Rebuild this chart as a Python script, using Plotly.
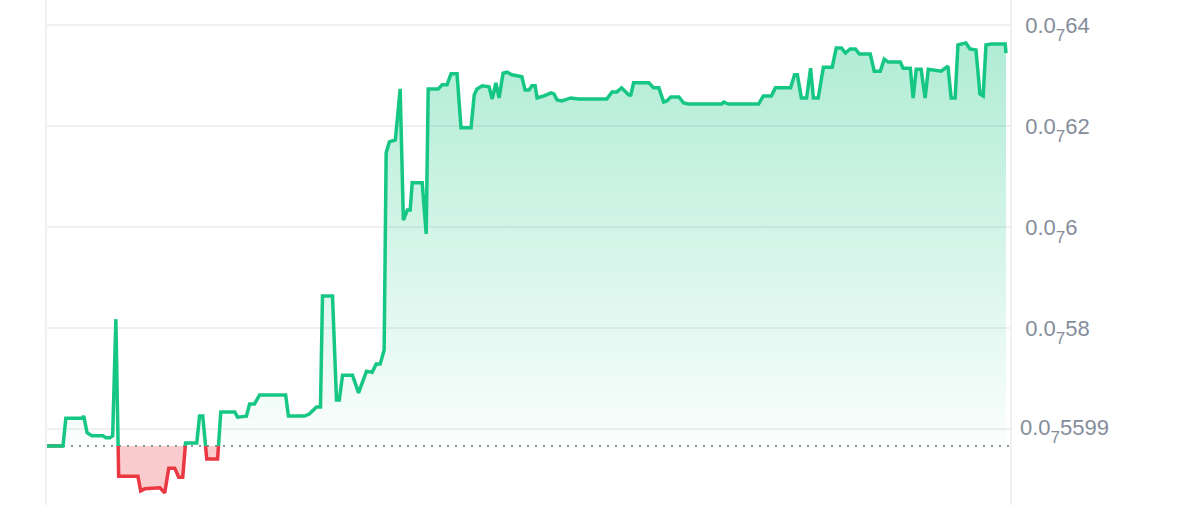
import numpy as np
import plotly.graph_objects as go

# price in units of 1e-8 (0.0₇64 == 6.4e-8), time in hours
hours = [
    0.00, 0.40, 0.47, 0.87, 0.92, 1.00, 1.12, 1.40, 1.47, 1.57, 1.64, 1.72, 1.79,
    2.27, 2.34, 2.44, 2.82, 2.94, 3.04, 3.19, 3.29, 3.39, 3.46, 3.74, 3.81, 3.89,
    3.99, 4.26, 4.34, 4.69, 4.76, 4.98, 5.06, 5.18, 5.31, 5.96, 6.03, 6.43, 6.55,
    6.73, 6.83, 6.88, 7.13, 7.23, 7.30, 7.38, 7.63, 7.78, 7.98, 8.12, 8.22, 8.32,
    8.42, 8.47, 8.55, 8.70, 8.82, 8.90, 9.00, 9.07, 9.12, 9.37, 9.47, 9.52, 9.77,
    9.87, 9.99, 10.09, 10.24, 10.34, 10.59, 10.67, 10.74, 10.87, 10.99, 11.04,
    11.12, 11.21, 11.29, 11.39, 11.49, 11.61, 11.86, 11.94, 12.04, 12.11, 12.19,
    12.24, 12.41, 12.59, 12.66, 12.74, 12.86, 13.08, 13.28, 13.98, 14.11, 14.23,
    14.35, 14.53, 14.58, 14.65, 15.03, 15.15, 15.28, 15.40, 15.48, 15.58, 15.78,
    15.90, 16.02, 16.85, 16.90, 17.02, 17.77, 17.89, 18.09, 18.19, 18.57, 18.67,
    18.74, 18.84, 18.97, 19.07, 19.14, 19.26, 19.39, 19.61, 19.71, 19.84, 19.94,
    20.06, 20.19, 20.29, 20.56, 20.66, 20.81, 20.91, 21.01, 21.31, 21.38, 21.56,
    21.63, 21.71, 21.83, 21.93, 22.01, 22.33, 22.50, 22.58, 22.68, 22.75, 22.95,
    23.05, 23.20, 23.30, 23.38, 23.45, 23.58, 23.93, 23.95,
]
price = [
    5.567, 5.567, 5.622, 5.622, 5.626, 5.593, 5.587, 5.587, 5.583, 5.583, 5.587, 5.818, 5.507,
    5.507, 5.478, 5.482, 5.484, 5.474, 5.523, 5.523, 5.505, 5.505, 5.573, 5.573, 5.626, 5.626,
    5.541, 5.541, 5.634, 5.634, 5.624, 5.626, 5.650, 5.650, 5.668, 5.668, 5.626, 5.626, 5.630,
    5.644, 5.644, 5.864, 5.864, 5.658, 5.658, 5.707, 5.707, 5.672, 5.715, 5.713, 5.729, 5.729,
    5.757, 6.147, 6.169, 6.173, 6.274, 6.014, 6.034, 6.034, 6.088, 6.088, 5.987, 6.274, 6.274,
    6.282, 6.282, 6.304, 6.304, 6.197, 6.197, 6.262, 6.274, 6.280, 6.278, 6.278,
    6.254, 6.286, 6.256, 6.305, 6.307, 6.302, 6.298, 6.272, 6.272, 6.280, 6.280,
    6.256, 6.260, 6.266, 6.264, 6.252, 6.250, 6.256, 6.254, 6.254, 6.268, 6.268,
    6.276, 6.262, 6.262, 6.286, 6.286, 6.276, 6.276, 6.248, 6.250, 6.258, 6.258,
    6.246, 6.244, 6.244, 6.248, 6.244, 6.244, 6.260, 6.260, 6.276, 6.276, 6.302,
    6.302, 6.256, 6.256, 6.315, 6.256, 6.256, 6.317, 6.317, 6.355, 6.355, 6.345,
    6.353, 6.353, 6.343, 6.343, 6.309, 6.309, 6.333, 6.327, 6.327, 6.315, 6.315,
    6.256, 6.313, 6.313, 6.256, 6.313, 6.309, 6.319, 6.256, 6.256, 6.361, 6.365,
    6.353, 6.351, 6.264, 6.260, 6.361, 6.363, 6.363, 6.345,
]
open_price = 5.567
open_digits = "5599"
tick_vals = [5.6, 5.8, 6.0, 6.2, 6.4]
tick_digits = ["", "58", "6", "62", "64"]

GREEN = "#16c784"
RED = "#ea3943"
LABEL_FONT = dict(family="Liberation Sans, Arial, sans-serif", size=22, color="#858d9b")


def sub_zero_label(digits):
    # 0.0 with a subscript count of zeros, coingecko style
    if not digits:
        return ""
    return ('0.0<sub><span style="font-size:17px;baseline-shift:-3px">7</span></sub>'
            + digits)


# insert crossing points with the opening price so up/down parts meet cleanly
t_all, p_all = [hours[0]], [price[0]]
for i in range(1, len(price)):
    p0, p1 = price[i - 1] - open_price, price[i] - open_price
    if p0 * p1 < 0:
        frac = p0 / (p0 - p1)
        t_all.append(hours[i - 1] + frac * (hours[i] - hours[i - 1]))
        p_all.append(open_price)
    t_all.append(hours[i])
    p_all.append(price[i])
t_all = np.array(t_all)
p_all = np.array(p_all)

above = np.where(p_all >= open_price, p_all, np.nan)
below = np.where(p_all <= open_price, p_all, np.nan)
base = np.full_like(p_all, open_price)

fig = go.Figure()

# green area: between line and opening price
fig.add_trace(go.Scatter(x=t_all, y=base, mode="lines", line=dict(width=0),
                         hoverinfo="skip", showlegend=False))
fig.add_trace(go.Scatter(
    x=t_all, y=np.maximum(p_all, open_price), mode="lines", line=dict(width=0),
    fill="tonexty",
    fillgradient=dict(type="vertical", colorscale=[
        [0, "rgba(22,199,132,0.02)"], [1, "rgba(22,199,132,0.34)"]]),
    hoverinfo="skip", showlegend=False))

# red area
fig.add_trace(go.Scatter(x=t_all, y=base, mode="lines", line=dict(width=0),
                         hoverinfo="skip", showlegend=False))
fig.add_trace(go.Scatter(
    x=t_all, y=np.minimum(p_all, open_price), mode="lines", line=dict(width=0),
    fill="tonexty", fillcolor="rgba(234,57,67,0.26)",
    hoverinfo="skip", showlegend=False))

# opening price dotted line
fig.add_trace(go.Scatter(x=[0, 24.05], y=[open_price, open_price], mode="lines",
                         line=dict(color="#8d939e", width=2, dash="2px,6px"),
                         hoverinfo="skip", showlegend=False))

fig.add_trace(go.Scatter(x=t_all, y=below, mode="lines",
                         line=dict(color=RED, width=3.5), connectgaps=False,
                         showlegend=False))
fig.add_trace(go.Scatter(x=t_all, y=above, mode="lines",
                         line=dict(color=GREEN, width=3.5), connectgaps=False,
                         showlegend=False))

fig.add_annotation(x=1, xref="paper", y=open_price, yref="y",
                   text=sub_zero_label(open_digits),
                   showarrow=False, xanchor="left", yanchor="middle",
                   xshift=8, yshift=15, font=LABEL_FONT)

fig.update_layout(
    width=1200, height=505,
    margin=dict(l=47, r=190, t=0, b=0),
    paper_bgcolor="white", plot_bgcolor="white",
    xaxis=dict(range=[0, 24.05], showgrid=False, zeroline=False,
               showticklabels=False, showline=False),
    yaxis=dict(range=[5.45, 6.45], side="right", tickvals=tick_vals,
               ticktext=[sub_zero_label(d) for d in tick_digits],
               showgrid=True, gridcolor="#eef0f3", gridwidth=1.5, zeroline=False,
               showline=True, mirror=True, linecolor="#eef0f3", linewidth=1.5,
               ticks="", ticklabelstandoff=9, tickfont=LABEL_FONT),
    showlegend=False,
)

fig.write_html("out.html", config={"displayModeBar": False},
               post_script="document.body.style.margin='0';")
